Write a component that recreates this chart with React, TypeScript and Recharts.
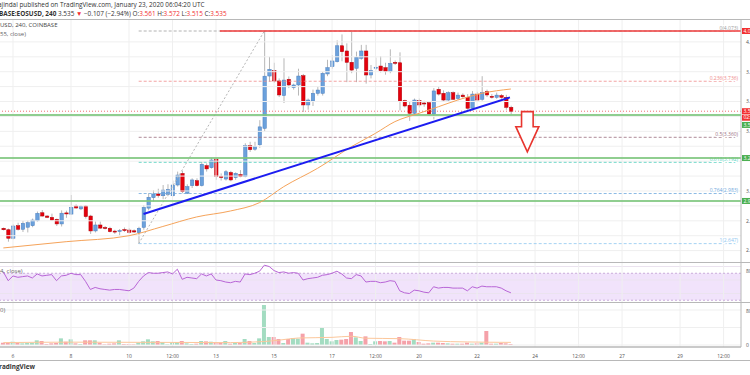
import React from 'react'
import { ComposedChart, Bar, Line, XAxis, YAxis, ReferenceLine, ReferenceArea, Cell } from 'recharts'

// 4h bars, index 0 = Jan 6 00:00 UTC
const firstBar = -2

const opens = [
  2.750, 2.740, 2.683, 2.767, 2.743, 2.757, 2.767, 2.800, 2.854, 2.832,
  2.823, 2.810, 2.779, 2.853, 2.845, 2.899, 2.880, 2.899, 2.832, 2.732,
  2.772, 2.755, 2.750, 2.731, 2.728, 2.741, 2.738, 2.733, 2.720, 2.756,
  2.885, 2.955, 2.980, 2.968, 2.975, 2.968, 3.040, 3.118, 2.985, 3.036,
  3.069, 3.036, 3.170, 3.156, 3.214, 3.099, 3.080, 3.124, 3.090, 3.110,
  3.097, 3.304, 3.280, 3.310, 3.420, 3.771, 3.807, 3.738, 3.640, 3.749,
  3.693, 3.711, 3.773, 3.577, 3.604, 3.655, 3.655, 3.785, 3.834, 3.867,
  3.974, 3.939, 3.863, 3.823, 3.890, 3.939, 3.778, 3.826, 3.838, 3.827,
  3.800, 3.863, 3.860, 3.606, 3.575, 3.521, 3.606, 3.590, 3.592, 3.516,
  3.682, 3.655, 3.610, 3.659, 3.620, 3.643, 3.628, 3.555, 3.650, 3.615,
  3.666, 3.635, 3.628, 3.640, 3.628, 3.561,
]
const highs = [
  2.755, 2.748, 2.775, 2.787, 2.800, 2.802, 2.815, 2.862, 2.872, 2.838,
  2.848, 2.815, 2.870, 2.868, 2.973, 2.910, 2.905, 2.905, 2.840, 2.795,
  2.795, 2.765, 2.760, 2.740, 2.745, 2.755, 2.750, 2.742, 2.760, 2.905,
  2.985, 3.005, 3.015, 3.040, 3.045, 3.070, 3.130, 3.135, 3.045, 3.085,
  3.085, 3.195, 3.185, 3.222, 3.222, 3.118, 3.140, 3.135, 3.125, 3.140,
  3.320, 3.330, 3.330, 3.475, 4.073, 3.900, 3.860, 3.755, 3.890, 3.768,
  3.720, 3.820, 3.785, 3.620, 3.680, 3.700, 3.800, 3.880, 3.910, 4.010,
  4.050, 3.990, 4.068, 3.935, 3.980, 3.980, 3.845, 3.895, 3.905, 3.860,
  3.950, 3.875, 3.930, 3.612, 3.600, 3.620, 3.620, 3.605, 3.600, 3.690,
  3.700, 3.675, 3.668, 3.668, 3.660, 3.655, 3.650, 3.670, 3.665, 3.770,
  3.680, 3.650, 3.660, 3.650, 3.645, 3.572,
]
const lows = [
  2.735, 2.660, 2.676, 2.735, 2.725, 2.722, 2.757, 2.795, 2.828, 2.818,
  2.800, 2.765, 2.762, 2.820, 2.840, 2.880, 2.872, 2.815, 2.712, 2.722,
  2.745, 2.742, 2.722, 2.712, 2.700, 2.725, 2.715, 2.718, 2.647, 2.740,
  2.870, 2.930, 2.955, 2.945, 2.965, 2.962, 3.030, 2.985, 2.980, 3.020,
  3.030, 3.030, 3.130, 3.150, 3.075, 3.070, 3.070, 3.065, 3.075, 3.092,
  3.092, 3.262, 3.270, 3.290, 3.400, 3.733, 3.725, 3.630, 3.590, 3.690,
  3.680, 3.640, 3.530, 3.545, 3.570, 3.640, 3.640, 3.770, 3.820, 3.862,
  3.870, 3.730, 3.790, 3.730, 3.880, 3.720, 3.755, 3.810, 3.795, 3.780,
  3.790, 3.845, 3.540, 3.560, 3.470, 3.510, 3.560, 3.565, 3.500, 3.480,
  3.640, 3.600, 3.600, 3.610, 3.610, 3.625, 3.545, 3.540, 3.605, 3.605,
  3.630, 3.620, 3.618, 3.618, 3.545, 3.515,
]
const closes = [
  2.740, 2.683, 2.765, 2.743, 2.783, 2.787, 2.805, 2.850, 2.832, 2.823,
  2.805, 2.779, 2.851, 2.846, 2.890, 2.886, 2.897, 2.828, 2.732, 2.772,
  2.751, 2.748, 2.727, 2.729, 2.735, 2.739, 2.722, 2.725, 2.750, 2.890,
  2.958, 2.980, 2.970, 3.006, 3.010, 3.040, 3.107, 2.995, 3.029, 3.074,
  3.036, 3.179, 3.148, 3.208, 3.096, 3.090, 3.129, 3.074, 3.118, 3.097,
  3.304, 3.277, 3.300, 3.430, 3.770, 3.816, 3.738, 3.644, 3.744, 3.711,
  3.711, 3.771, 3.577, 3.610, 3.655, 3.677, 3.789, 3.827, 3.872, 3.974,
  3.934, 3.863, 3.811, 3.897, 3.939, 3.778, 3.807, 3.830, 3.807, 3.800,
  3.856, 3.856, 3.599, 3.570, 3.521, 3.610, 3.577, 3.585, 3.516, 3.671,
  3.650, 3.610, 3.659, 3.615, 3.643, 3.632, 3.555, 3.650, 3.610, 3.659,
  3.644, 3.628, 3.643, 3.628, 3.561, 3.535,
]
const volumes = [
  5.3, 5.3, 7.6, 5.3, 3.8, 4.6, 5.3, 10.7, 9.1, 2.3,
  3.8, 4.6, 15.2, 7.6, 13.0, 3.8, 2.3, 10.7, 10.7, 10.7,
  5.3, 1.5, 3.0, 3.8, 10.7, 2.3, 2.3, 1.5, 5.3, 8.4,
  13.0, 8.4, 9.1, 6.9, 1.5, 5.3, 6.9, 9.1, 3.8, 2.3,
  3.0, 9.1, 8.4, 7.6, 6.1, 5.3, 9.1, 3.0, 4.6, 4.6,
  13.7, 9.1, 4.6, 15.2, 91.4, 18.3, 18.3, 13.7, 4.6, 13.7,
  16.0, 14.5, 25.9, 5.3, 3.8, 4.6, 38.9, 13.7, 8.4, 11.4,
  12.2, 13.7, 29.7, 17.5, 9.1, 19.8, 2.3, 8.4, 9.1, 8.4,
  9.1, 5.3, 18.3, 9.9, 9.9, 13.7, 6.9, 3.0, 3.8, 5.3,
  5.3, 4.6, 3.8, 3.0, 3.0, 3.0, 5.3, 3.0, 3.8, 5.3,
  32.0, 3.0, 3.0, 4.6, 3.8, 2.5,
]
const rsiVals = [
  72, 59, 66, 64, 65, 66, 63, 69, 66, 67,
  68, 59, 66, 67, 70, 68, 68, 58, 46, 49,
  47, 46, 45, 46, 46, 45, 44, 48, 58, 66,
  71, 70, 70, 71, 72, 69, 76, 61, 64, 63,
  62, 69, 66, 69, 60, 59, 57, 56, 58, 57,
  69, 68, 70, 73, 82, 80, 74, 71, 72, 70,
  71, 70, 60, 62, 63, 64, 67, 68, 70, 73,
  69, 63, 62, 68, 66, 57, 58, 58, 56, 57,
  59, 58, 44, 41, 40, 45, 44, 42, 41, 50,
  48, 49, 49, 48, 48, 48, 44, 50, 48, 51,
  50, 50, 50, 48, 44, 41,
]

// moving averages read at a few bars
const emaBars = [-2, 11, 24, 31, 38, 45, 51, 56, 63, 70, 75, 79, 84, 88, 92, 97, 103]
const emaVals = [2.618, 2.660, 2.700, 2.762, 2.826, 2.866, 2.922, 3.029, 3.152, 3.297, 3.387, 3.465, 3.521, 3.565, 3.610, 3.655, 3.684]
const volMaBars = [-2, 12, 30, 45, 52, 55, 59, 66, 70, 73, 80, 87, 94, 103]
const volMaVals = [5.5, 6.5, 6.0, 5.5, 8.0, 11.0, 16.0, 17.5, 20.0, 15.5, 14.5, 9.0, 7.0, 6.0]

const dayTicks = [0, 12, 24, 33, 42, 54, 66, 75, 84, 96, 108, 117, 126, 138, 147]
const dayLabels = ['6', '8', '10', '12:00', '13', '15', '17', '12:00', '20', '22', '24', '12:00', '27', '29', '12:00']
const priceTicks = [2.6, 2.7, 2.8, 2.9, 3.0, 3.1, 3.2, 3.3, 3.4, 3.5, 3.6, 3.7, 3.8, 3.9, 4.0]
const coveredTicks = [3.2, 3.5] // hidden under the axis badges
const rsiTicks = [40, 60, 80]
const volTicks = [0, 40, 80]

// drawings
const fibNames = ['0', '0.236', '0.5', '0.618', '0.764', '1']
const fibPrices = [4.073, 3.736, 3.360, 3.192, 2.983, 2.647]
const fibColors = ['#9e9e9e', '#ef8a8a', '#9a6f7f', '#4fd1bd', '#6fa8dc', '#8ec6ef']
const fibFrom = 26
const fibTo = 150
const supports = [3.510, 3.221, 2.933]
const resistance = 4.073
const resistanceFrom = 42.8
const lastPrice = 3.535
const trendBars = [27, 102.8]
const trendPrices = [2.846, 3.628]
const arrowBar = 106.4
const arrowPrices = [3.532, 3.263]

const X_DOMAIN = [-2.69, 150.6]
const PRICE_DOMAIN = [2.5237, 4.1468]
const RSI_DOMAIN = [27.4, 86.7]
const VOL_DOMAIN = [-4.57, 98.3]

const UP = '#6ba1dc'
const UP_EDGE = '#4a7fbf'
const DOWN = '#e5000c'
const DOWN_EDGE = '#b00008'
const GRID = '#efefef'
const FONT = '"Open Sans", sans-serif'

const rows = opens.map((o, i) => {
  const t = firstBar + i
  const e = emaBars.indexOf(t)
  const m = volMaBars.indexOf(t)
  return {
    t,
    o,
    h: highs[i],
    l: lows[i],
    c: closes[i],
    range: [lows[i], highs[i]],
    vol: volumes[i],
    rsi: rsiVals[i],
    ema: e >= 0 ? emaVals[e] : null,
    volMa: m >= 0 ? volMaVals[m] : null,
  }
})

const Candle = (props: any) => {
  const { x, y, width, height, payload } = props
  const top = Math.min(y, y + height)
  const h = Math.abs(height)
  const ratio = h / (payload.h - payload.l || 1)
  const yo = top + (payload.h - payload.o) * ratio
  const yc = top + (payload.h - payload.c) * ratio
  const up = payload.c >= payload.o
  const cx = x + width / 2
  return (
    <g>
      <line x1={cx} x2={cx} y1={top} y2={top + h} stroke="#a4a4a4" strokeWidth={0.8} />
      <rect
        x={x}
        y={Math.min(yo, yc)}
        width={width}
        height={Math.max(Math.abs(yo - yc), 1)}
        fill={up ? UP : DOWN}
        stroke={up ? UP_EDGE : DOWN_EDGE}
        strokeWidth={0.5}
      />
    </g>
  )
}

const DownArrow = (p: any) => {
  const cx = p.x1
  const top = Math.min(p.y1, p.y2)
  const tip = Math.max(p.y1, p.y2)
  const neck = top + (tip - top) * 0.375
  const pts = [
    [cx - 5.8, top], [cx + 5.8, top], [cx + 5.8, neck], [cx + 11.5, neck],
    [cx, tip], [cx - 11.5, neck], [cx - 5.8, neck],
  ]
  return <polygon points={pts.map((q) => q.join(',')).join(' ')} fill="#fff" stroke="#e8352e" strokeWidth={1.6} />
}

const fibLabel = (text: string, color: string) => (props: any) => {
  const vb = props.viewBox
  return (
    <text x={vb.x + vb.width} y={vb.y - 1.5} textAnchor="end" fontSize={5} fill={color}
      stroke="#fff" strokeWidth={2} paintOrder="stroke">{text}</text>
  )
}

const badge = (text: string, color: string, dy = 0, text2?: string) => (props: any) => {
  const vb = props.viewBox
  const bx = vb.x + vb.width + 1
  const by = vb.y - 3 + dy
  return (
    <g>
      <rect x={bx} y={by} width={14} height={6} fill={color} />
      <text x={bx + 1.5} y={by + 4.7} fontSize={5} fill="#fff">{text}</text>
      {text2 && <rect x={bx} y={by + 6.5} width={14} height={6} fill={color} />}
      {text2 && <text x={bx + 1.5} y={by + 11.2} fontSize={5} fill="#fff">{text2}</text>}
    </g>
  )
}

const sideTick = (fmt: (v: number) => string, skip: number[] = []) => (props: any) => {
  if (skip.includes(props.payload.value)) return <g />
  return <text x={props.x + 3} y={props.y + 1.8} fontSize={5} fill="#555">{fmt(props.payload.value)}</text>
}

const DayTick = (props: any) => {
  const i = dayTicks.indexOf(props.payload.value)
  return (
    <text x={props.x} y={props.y + 8.5} textAnchor="middle" fontSize={5} fill="#555">{dayLabels[i]}</text>
  )
}

const vGrid = () => dayTicks.map((t) => <ReferenceLine key={'v' + t} x={t} stroke={GRID} />)

const hLine = (top: number, width = 750): React.CSSProperties => ({
  position: 'absolute', left: 0, top, width, height: 0, borderTop: '1.5px solid #b8b8b8',
})

const txt = (left: number, top: number, size: number, color: string): React.CSSProperties => ({
  position: 'absolute', left, top, fontSize: size, color, whiteSpace: 'nowrap', lineHeight: 1, fontFamily: FONT,
})

export default function App() {
  return (
    <div style={{ position: 'absolute', left: 0, top: 0, width: 750, height: 375, overflow: 'hidden', background: '#fff', fontFamily: FONT }}>
      {/* main price panel */}
      <div style={{ position: 'absolute', left: 0, top: 20 }}>
        <ComposedChart width={750} height={242} data={rows} margin={{ top: 0, right: 0, bottom: 0, left: 0 }}>
          <XAxis dataKey="t" type="number" domain={X_DOMAIN} hide allowDataOverflow />
          <YAxis orientation="right" width={9} domain={PRICE_DOMAIN} ticks={priceTicks} allowDataOverflow
            axisLine={{ stroke: '#b8b8b8' }} tickLine={false} tickSize={0} tick={sideTick((v) => v.toFixed(3), coveredTicks)} />
          {priceTicks.map((p) => <ReferenceLine key={'h' + p} y={p} stroke={GRID} />)}
          {vGrid()}
          <ReferenceLine segment={[{ x: fibFrom, y: fibPrices[5] }, { x: 52, y: fibPrices[0] }]} stroke="#b5b5b5" strokeDasharray="2 2" />
          {fibPrices.map((p, i) => (
            <ReferenceLine key={'f' + i} segment={[{ x: fibFrom, y: p }, { x: fibTo, y: p }]} stroke={fibColors[i]}
              strokeDasharray="3 2" strokeWidth={0.8} label={fibLabel(`${fibNames[i]}(${p.toFixed(3)})`, fibColors[i])} />
          ))}
          <ReferenceLine y={lastPrice} stroke="#f07070" strokeDasharray="1 2" label={badge(lastPrice.toFixed(3), '#f23030', 0, '02:')} />
          {supports.map((p, i) => (
            <ReferenceLine key={'s' + i} y={p} stroke="#7cc57c" strokeWidth={2} strokeOpacity={0.85}
              label={badge(p.toFixed(3), '#4caf50', i === 0 ? 10 : 0)} />
          ))}
          <ReferenceLine segment={[{ x: resistanceFrom, y: resistance }, { x: X_DOMAIN[1], y: resistance }]} stroke="#ef3b3b"
            strokeWidth={1.5} label={badge(resistance.toFixed(3), '#f23030')} />
          <Line dataKey="ema" type="monotone" stroke="#f5a35a" strokeWidth={1} dot={false} connectNulls isAnimationActive={false} />
          <Bar dataKey="range" barSize={3.4} shape={Candle} isAnimationActive={false} />
          <ReferenceLine segment={[{ x: trendBars[0], y: trendPrices[0] }, { x: trendBars[1], y: trendPrices[1] }]}
            stroke="#1c1cf0" strokeWidth={2} />
          <ReferenceLine segment={[{ x: arrowBar, y: arrowPrices[0] }, { x: arrowBar, y: arrowPrices[1] }]} shape={DownArrow} />
        </ComposedChart>
      </div>

      {/* RSI panel */}
      <div style={{ position: 'absolute', left: 0, top: 262 }}>
        <ComposedChart width={750} height={40} data={rows} margin={{ top: 0, right: 0, bottom: 0, left: 0 }}>
          <XAxis dataKey="t" type="number" domain={X_DOMAIN} hide allowDataOverflow />
          <YAxis orientation="right" width={9} domain={RSI_DOMAIN} ticks={rsiTicks} allowDataOverflow
            axisLine={{ stroke: '#b8b8b8' }} tickLine={false} tickSize={0} tick={sideTick((v) => String(v))} />
          <ReferenceArea y1={30} y2={70} fill="#f1e3fb" fillOpacity={1} stroke="none" />
          {rsiTicks.map((v) => <ReferenceLine key={'r' + v} y={v} stroke="#ebe3ef" />)}
          {vGrid()}
          <ReferenceLine y={70} stroke="#c9acd9" strokeDasharray="2 2" />
          <ReferenceLine y={30} stroke="#c9acd9" strokeDasharray="2 2" />
          <Line dataKey="rsi" type="linear" stroke="#b865d6" strokeWidth={1} dot={false} isAnimationActive={false} />
        </ComposedChart>
      </div>

      {/* volume panel */}
      <div style={{ position: 'absolute', left: 0, top: 302 }}>
        <ComposedChart width={750} height={58} data={rows} margin={{ top: 0, right: 0, bottom: 0, left: 0 }}>
          <XAxis dataKey="t" type="number" domain={X_DOMAIN} ticks={dayTicks} allowDataOverflow height={13}
            axisLine={{ stroke: '#b8b8b8', strokeWidth: 1.5 }} tickLine={false} tickSize={0} tick={DayTick} interval={0} />
          <YAxis orientation="right" width={9} domain={VOL_DOMAIN} ticks={volTicks} allowDataOverflow
            axisLine={{ stroke: '#b8b8b8' }} tickLine={false} tickSize={0} tick={sideTick((v) => String(v))} />
          {volTicks.map((v) => <ReferenceLine key={'q' + v} y={v} stroke={GRID} />)}
          {vGrid()}
          <Bar dataKey="vol" barSize={4} isAnimationActive={false}>
            {rows.map((r) => <Cell key={r.t} fill={r.c >= r.o ? '#a3dcc1' : '#f5a1a9'} />)}
          </Bar>
          <Line dataKey="volMa" type="monotone" stroke="#fcc79b" strokeWidth={1} dot={false} connectNulls isAnimationActive={false} />
        </ComposedChart>
      </div>

      {/* panel borders */}
      <div style={hLine(19, 750)} />
      <div style={hLine(262)} />
      <div style={hLine(302)} />
      <div style={hLine(360)} />

      {/* texts */}
      <div style={txt(-2, 2, 6.4, '#333')}>ajindal published on TradingView.com, January 23, 2020 06:04:20 UTC</div>
      <div style={txt(-1, 11, 6.4, '#333')}>
        <b>BASE:EOSUSD, 240</b> 3.535 <span style={{ color: '#f23030' }}>▼</span> −0.107 (−2.94%){' '}
        O:<span style={{ color: '#f23030' }}>3.561</span> H:<span style={{ color: '#f23030' }}>3.572</span>{' '}
        L:<span style={{ color: '#f23030' }}>3.515</span> C:<span style={{ color: '#f23030' }}>3.535</span>
      </div>
      <div style={txt(0, 22, 6, '#444')}>USD, 240, COINBASE</div>
      <div style={txt(0, 31, 6, '#666')}>55, close)</div>
      <div style={txt(0, 268, 6, '#666')}>4, close)</div>
      <div style={txt(0, 307, 6, '#666')}>0)</div>
      <div style={txt(-1, 364, 6.4, '#333')}><b>radingView</b></div>
    </div>
  )
}
